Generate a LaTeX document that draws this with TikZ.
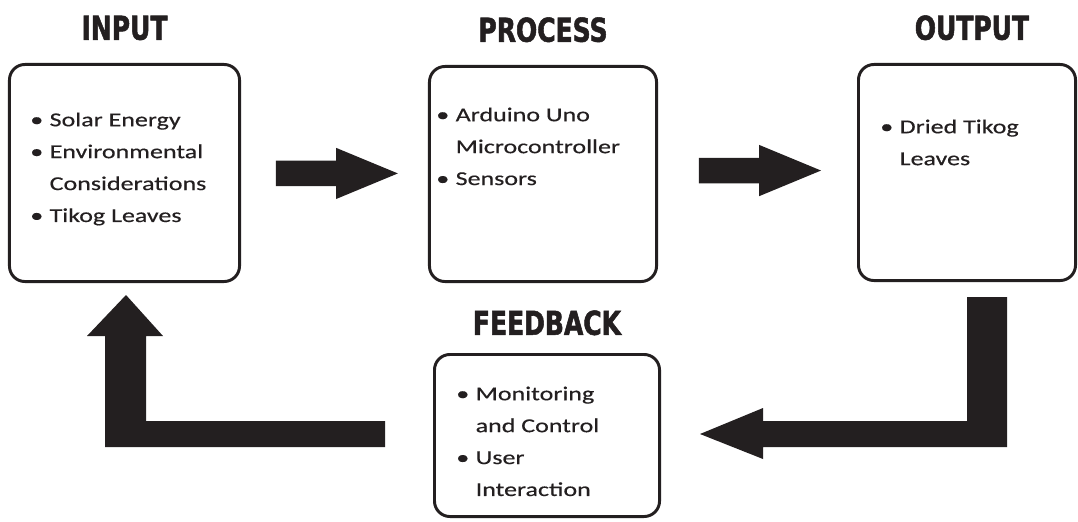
\documentclass[tikz,border=0pt]{standalone}
\usepackage{fontspec}
\setmainfont{Carlito}
\newfontfamily\bodyfont[FakeStretch=1.32, FakeBold=0.4]{Carlito}
\newfontfamily\headfont[FakeStretch=0.76, FakeBold=1.6]{DejaVu Sans Bold}
\usetikzlibrary{positioning, shapes.arrows}
\definecolor{ink}{HTML}{231F20}
\newcommand{\bul}{\makebox[13.8pt][l]{\textbullet}}
\newcommand{\ind}{\hspace*{13.8pt}}

\begin{document}
\begin{tikzpicture}[
    x=0.025cm, y=-0.025cm,
    box/.style={draw=ink, line width=2.1pt, rounded corners=11pt, fill=white},
    head/.style={inner sep=0pt, text=ink, font=\headfont\fontsize{23.4pt}{28pt}\selectfont},
    list/.style={inner sep=0pt, anchor=north west, align=left, text=ink,
        font=\bodyfont\fontsize{14pt}{22.7pt}\selectfont},
    blockarrow/.style={single arrow, fill=ink, draw=none, inner xsep=0pt, inner ysep=0.3125cm,
        minimum height=3.05cm, minimum width=1.275cm,
        single arrow head extend=0.32cm, single arrow tip angle=45},
    bentarrow/.style={fill=ink}
]
    \useasboundingbox (0,0) rectangle (1078,521);

    % Boxes
    \node[box, minimum width=5.75cm, minimum height=5.425cm] (input) at (124.5,173) {};
    \node[box, minimum width=5.675cm, minimum height=5.375cm] (process) at (543,174) {};
    \node[box, minimum width=5.425cm, minimum height=5.4cm] (output) at (967,172.5) {};
    \node[box, minimum width=5.625cm, minimum height=4.05cm] (feedback) at (547,435.5) {};

    % Titles
    \node[head, above=16pt of input] (inputhead) {INPUT};
    \node[head, above=16pt of process] (processhead) {PROCESS};
    \node[head, above=16pt of output, xshift=3.5pt] (outputhead) {OUTPUT};
    \node[head, above=12.4pt of feedback] (feedbackhead) {FEEDBACK};

    % Box contents
    \node[list] (inputlist) at (30,103.6)
        {\strut\bul Solar Energy\\ \bul Environmental\\ \ind Considerations\\ \bul Tikog Leaves};
    \node[list] (processlist) at (436,98.6)
        {\strut\bul Arduino Uno\\ \ind Microcontroller\\ \bul Sensors};
    \node[list] (outputlist) at (880,110.6)
        {\strut\bul Dried Tikog\\ \ind Leaves};
    \node[list] (feedbacklist) at (456,377.6)
        {\strut\bul Monitoring\\ \ind and Control\\ \bul User\\ \ind Interaction};

    % Straight arrows
    \path (input.east) -- (process.west) node[blockarrow, pos=0.43] (arrowA) {};
    \path (process.east) -- (output.west) node[blockarrow, pos=0.435, yshift=2pt] (arrowB) {};

    % Feedback loop
    \fill[bentarrow] (967,297) -- (1007,297) -- (1007,447) -- (763,447) -- (763,459)
        -- (700,434) -- (763,408) -- (763,421) -- (967,421) -- cycle;
    \fill[bentarrow] (385,421) -- (385,447) -- (105,447) -- (105,336) -- (87,336)
        -- (126,295) -- (163,336) -- (146,336) -- (146,421) -- cycle;

\end{tikzpicture}
\end{document}
